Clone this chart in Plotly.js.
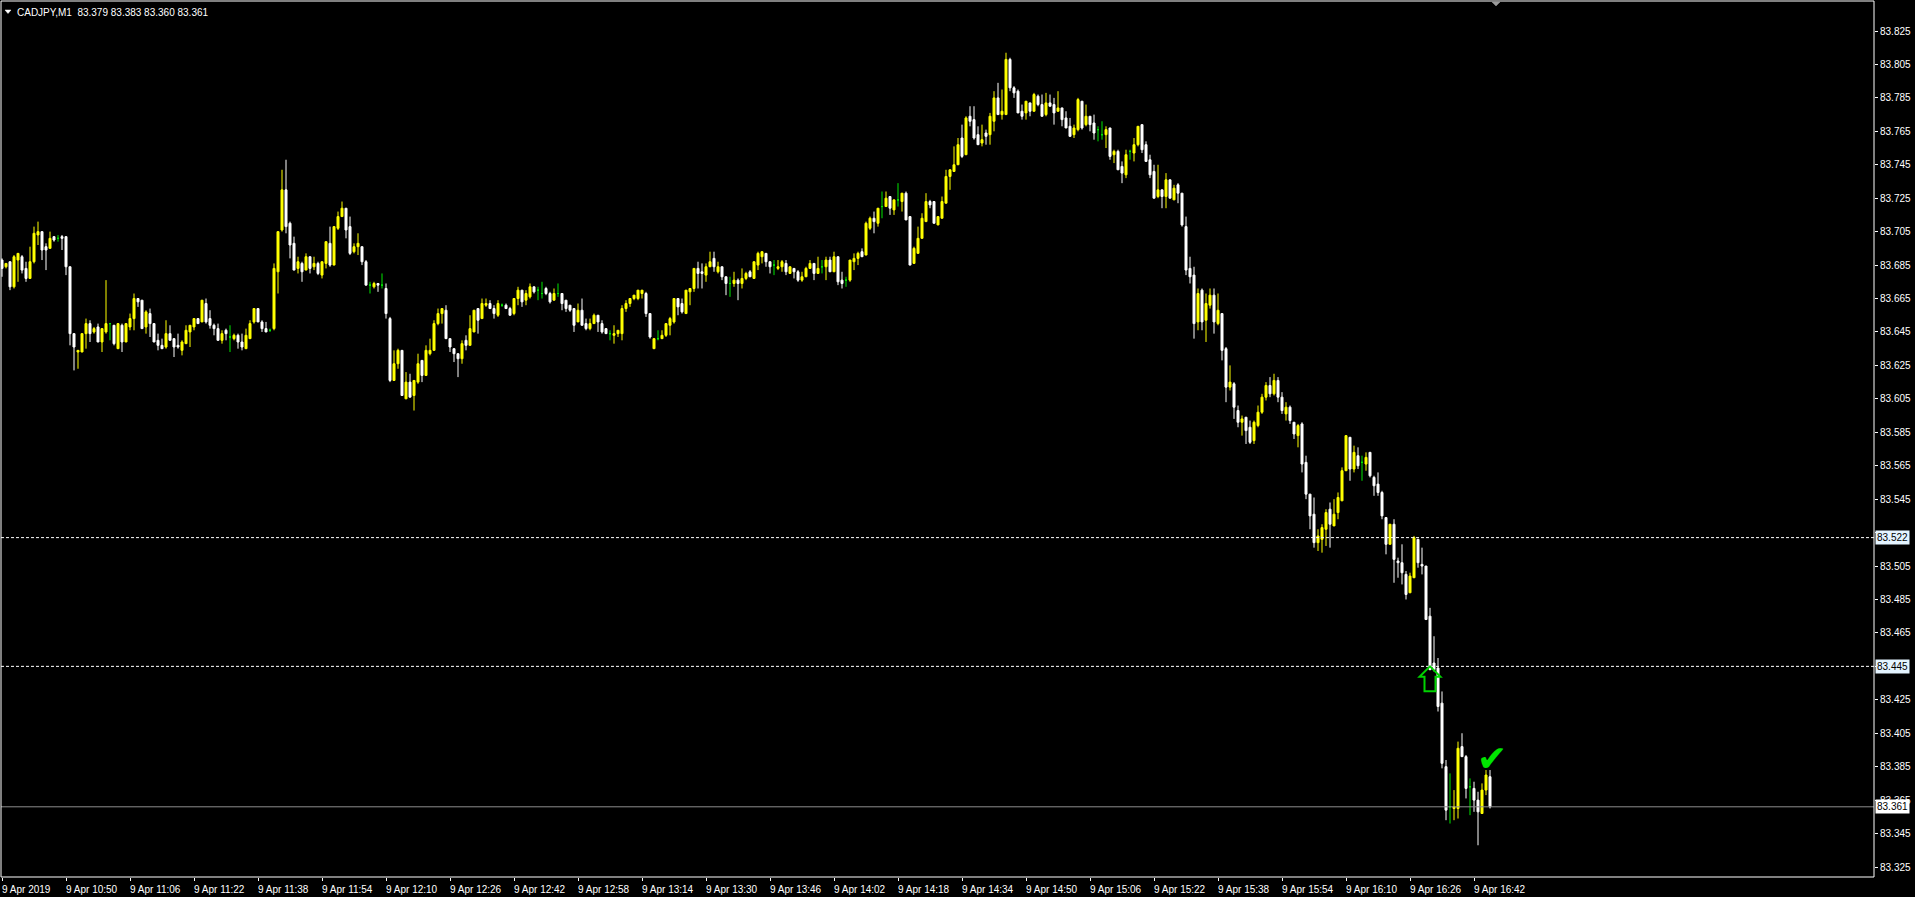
<!DOCTYPE html>
<html><head><meta charset="utf-8">
<script src="https://cdn.plot.ly/plotly-3.0.1.min.js"></script>
<style>html,body{margin:0;padding:0;background:#000;overflow:hidden}#chart{width:1915px;height:897px}</style>
</head><body><div id="chart"></div>
<script>
// ---- data (CADJPY, M1, one candle per minute starting 9 Apr 2019 10:34) ----
const symbolTitle = 'CADJPY,M1';
const lastQuote = ['83.379', '83.383', '83.360', '83.361'];

const openPrices = [
83.688,83.684,83.687,83.672,83.688,83.690,83.683,83.677,83.687,83.703,
83.705,83.696,83.695,83.702,83.701,83.702,83.702,83.684,83.644,83.633,
83.633,83.644,83.650,83.645,83.648,83.639,83.645,83.650,83.649,83.635,
83.649,83.639,83.648,83.653,83.665,83.664,83.648,83.656,83.650,83.640,
83.637,83.636,83.644,83.641,83.637,83.634,83.638,83.645,83.648,83.653,
83.651,83.662,83.653,83.649,83.647,83.640,83.646,83.642,83.641,83.643,
83.639,83.635,83.641,83.651,83.659,83.651,83.647,83.646,83.647,83.681,
83.706,83.730,83.710,83.698,83.683,83.686,83.682,83.690,83.684,83.686,
83.679,83.686,83.698,83.685,83.707,83.714,83.719,83.708,83.693,83.696,
83.696,83.687,83.673,83.672,83.674,83.673,83.671,83.653,83.616,83.626,
83.634,83.605,83.615,83.607,83.615,83.628,83.619,83.632,83.634,83.650,
83.656,83.658,83.641,83.635,83.632,83.629,83.640,83.637,83.645,83.659,
83.653,83.661,83.662,83.659,83.655,83.661,83.661,83.659,83.656,83.665,
83.670,83.664,83.666,83.672,83.670,83.668,83.671,83.668,83.664,83.668,
83.668,83.664,83.661,83.659,83.651,83.658,83.650,83.647,83.650,83.655,
83.650,83.647,83.644,83.643,83.644,83.644,83.659,83.662,83.665,83.665,
83.668,83.668,83.656,83.635,83.641,83.641,83.643,83.649,83.651,83.665,
83.662,83.656,83.669,83.671,83.683,83.681,83.679,83.684,83.689,83.681,
83.684,83.678,83.674,83.674,83.676,83.674,83.677,83.681,83.677,83.685,
83.690,83.692,83.687,83.685,83.683,83.684,83.686,83.680,83.683,83.681,
83.676,83.678,83.683,83.686,83.680,83.684,83.684,83.688,83.681,83.690,
83.676,83.676,83.676,83.687,83.689,83.693,83.691,83.707,83.713,83.710,
83.720,83.720,83.726,83.718,83.724,83.723,83.728,83.714,83.686,83.692,
83.701,83.711,83.723,83.723,83.709,83.713,83.722,83.738,83.741,83.745,
83.761,83.751,83.774,83.772,83.763,83.758,83.764,83.763,83.771,83.785,
83.775,83.775,83.808,83.791,83.789,83.777,83.776,83.782,83.777,83.786,
83.781,83.775,83.782,83.781,83.777,83.779,83.773,83.768,83.763,83.766,
83.783,83.769,83.774,83.770,83.766,83.763,83.763,83.767,83.751,83.753,
83.744,83.739,83.753,83.752,83.757,83.769,83.757,83.748,83.741,83.726,
83.730,83.726,83.736,83.724,83.733,83.728,83.708,83.683,83.679,83.651,
83.670,83.652,83.661,83.667,83.650,83.656,83.635,83.612,83.614,83.598,
83.591,83.594,83.588,83.580,83.589,83.597,83.606,83.613,83.608,83.616,
83.606,83.596,83.600,83.591,83.583,83.590,83.567,83.548,83.536,83.519,
83.521,83.527,83.539,83.529,83.537,83.544,83.562,83.582,83.563,83.571,
83.567,83.566,83.573,83.558,83.554,83.549,83.534,83.518,83.530,83.508,
83.507,83.500,83.489,83.498,83.521,83.506,83.505,83.475,83.447,83.444,
83.423,83.385,83.361,83.360,83.360,83.397,83.391,83.373,83.372,83.365,
83.357,83.371,83.379];

const highPrices = [
83.689,83.686,83.687,83.691,83.692,83.691,83.687,83.696,83.708,83.711,
83.705,83.698,83.705,83.702,83.703,83.703,83.702,83.684,83.644,83.634,
83.644,83.653,83.652,83.648,83.650,83.647,83.676,83.650,83.649,83.650,
83.650,83.650,83.656,83.668,83.665,83.664,83.658,83.659,83.650,83.644,
83.641,83.652,83.649,83.641,83.644,83.640,83.649,83.649,83.653,83.653,
83.664,83.665,83.658,83.650,83.650,83.646,83.647,83.649,83.644,83.644,
83.644,83.647,83.652,83.659,83.659,83.652,83.651,83.647,83.686,83.705,
83.742,83.748,83.711,83.702,83.690,83.687,83.692,83.690,83.690,83.687,
83.687,83.699,83.708,83.708,83.717,83.723,83.719,83.714,83.698,83.704,
83.696,83.688,83.675,83.675,83.674,83.680,83.674,83.654,83.634,83.635,
83.634,83.621,83.620,83.616,83.632,83.628,83.637,83.641,83.652,83.659,
83.659,83.661,83.641,83.635,83.632,83.640,83.643,83.655,83.658,83.659,
83.665,83.665,83.664,83.661,83.664,83.662,83.662,83.660,83.665,83.672,
83.670,83.670,83.674,83.672,83.672,83.675,83.672,83.669,83.671,83.674,
83.668,83.664,83.661,83.659,83.662,83.665,83.653,83.653,83.656,83.655,
83.652,83.647,83.646,83.649,83.646,83.661,83.664,83.665,83.667,83.670,
83.670,83.669,83.656,83.641,83.646,83.646,83.650,83.654,83.665,83.665,
83.665,83.670,83.671,83.683,83.687,83.686,83.686,83.693,83.693,83.687,
83.684,83.678,83.678,83.681,83.677,83.683,83.681,83.682,83.687,83.693,
83.693,83.692,83.687,83.688,83.688,83.688,83.688,83.684,83.683,83.682,
83.681,83.684,83.688,83.686,83.690,83.688,83.690,83.690,83.693,83.690,
83.681,83.678,83.688,83.692,83.693,83.695,83.711,83.714,83.717,83.719,
83.729,83.729,83.726,83.724,83.734,83.728,83.729,83.714,83.696,83.708,
83.716,83.728,83.724,83.723,83.714,83.726,83.742,83.742,83.756,83.761,
83.769,83.774,83.780,83.780,83.768,83.769,83.766,83.776,83.789,83.794,
83.790,83.812,83.809,83.792,83.790,83.781,83.783,83.782,83.788,83.787,
83.787,83.788,83.787,83.785,83.789,83.779,83.777,83.773,83.769,83.785,
83.783,83.781,83.774,83.775,83.768,83.771,83.768,83.767,83.754,83.754,
83.747,83.754,83.754,83.761,83.768,83.769,83.759,83.751,83.745,83.745,
83.730,83.740,83.736,83.733,83.734,83.728,83.714,83.690,83.684,83.671,
83.671,83.668,83.671,83.671,83.668,83.656,83.636,83.625,83.615,83.601,
83.595,83.594,83.592,83.592,83.601,83.608,83.615,83.618,83.620,83.618,
83.609,83.603,83.601,83.591,83.590,83.591,83.571,83.548,83.546,83.527,
83.530,83.539,83.543,83.545,83.549,83.564,83.583,83.582,83.577,83.576,
83.571,83.573,83.573,83.559,83.561,83.550,83.534,83.530,83.533,83.510,
83.518,83.502,83.501,83.523,83.521,83.516,83.505,83.480,83.463,83.450,
83.430,83.389,83.381,83.371,83.400,83.405,83.392,83.378,83.376,83.370,
83.375,83.383,83.383];

const lowPrices = [
83.678,83.683,83.670,83.671,83.675,83.680,83.675,83.677,83.686,83.697,
83.688,83.682,83.695,83.699,83.699,83.694,83.679,83.637,83.622,83.623,
83.633,83.635,83.639,83.644,83.639,83.633,83.644,83.640,83.637,83.635,
83.633,83.639,83.646,83.646,83.660,83.647,83.644,83.642,83.639,83.634,
83.635,83.635,83.640,83.630,83.635,83.631,83.638,83.636,83.646,83.650,
83.651,83.650,83.647,83.643,83.640,83.638,83.640,83.633,83.640,83.635,
83.634,83.635,83.641,83.650,83.651,83.645,83.645,83.645,83.646,83.668,
83.705,83.704,83.689,83.682,83.680,83.675,83.682,83.680,83.682,83.679,
83.677,83.683,83.684,83.685,83.706,83.714,83.701,83.691,83.692,83.691,
83.685,83.673,83.668,83.671,83.669,83.671,83.653,83.615,83.616,83.623,
83.607,83.605,83.606,83.598,83.614,83.615,83.619,83.631,83.634,83.649,
83.650,83.641,83.633,83.627,83.618,83.626,83.634,83.637,83.645,83.644,
83.653,83.660,83.659,83.653,83.654,83.660,83.659,83.655,83.655,83.661,
83.660,83.661,83.665,83.668,83.664,83.665,83.667,83.662,83.664,83.666,
83.658,83.657,83.657,83.645,83.651,83.649,83.646,83.646,83.650,83.645,
83.644,83.644,83.640,83.638,83.642,83.640,83.657,83.660,83.664,83.664,
83.665,83.654,83.641,83.635,83.640,83.641,83.642,83.643,83.650,83.655,
83.656,83.656,83.661,83.669,83.671,83.671,83.675,83.684,83.681,83.680,
83.676,83.667,83.666,83.672,83.664,83.671,83.676,83.678,83.677,83.682,
83.686,83.684,83.680,83.679,83.682,83.681,83.679,83.680,83.677,83.675,
83.675,83.678,83.683,83.676,83.680,83.680,83.676,83.681,83.681,83.673,
83.671,83.672,83.675,83.682,83.685,83.690,83.691,83.706,83.704,83.708,
83.713,83.720,83.715,83.715,83.720,83.717,83.712,83.685,83.686,83.692,
83.701,83.711,83.719,83.710,83.709,83.713,83.722,83.730,83.741,83.745,
83.749,83.751,83.768,83.760,83.757,83.756,83.757,83.757,83.765,83.775,
83.772,83.775,83.789,83.785,83.776,83.772,83.772,83.774,83.777,83.780,
83.774,83.774,83.780,83.769,83.777,83.768,83.767,83.762,83.761,83.765,
83.766,83.768,83.765,83.760,83.759,83.760,83.755,83.748,83.746,83.742,
83.734,83.737,83.748,83.747,83.756,83.752,83.747,83.737,83.725,83.725,
83.719,83.719,83.725,83.724,83.722,83.708,83.679,83.674,83.641,83.646,
83.646,83.639,83.659,83.644,83.649,83.628,83.603,83.610,83.593,83.588,
83.583,83.578,83.578,83.578,83.588,83.596,83.604,83.606,83.607,83.603,
83.596,83.592,83.590,83.581,83.576,83.561,83.545,83.527,83.516,83.514,
83.513,83.517,83.516,83.529,83.533,83.544,83.562,83.556,83.561,83.563,
83.556,83.562,83.558,83.547,83.547,83.533,83.512,83.518,83.495,83.498,
83.494,83.485,83.489,83.498,83.504,83.500,83.473,83.443,83.442,83.418,
83.384,83.353,83.351,83.353,83.354,83.391,83.366,83.356,83.358,83.338,
83.357,83.368,83.360];

const closePrices = [
83.683,83.686,83.672,83.690,83.692,83.682,83.677,83.687,83.704,83.705,
83.694,83.694,83.701,83.700,83.701,83.701,83.684,83.644,83.636,83.634,
83.644,83.650,83.644,83.647,83.639,83.647,83.650,83.650,83.638,83.650,
83.639,83.650,83.653,83.665,83.663,83.647,83.657,83.650,83.639,83.637,
83.635,83.644,83.640,83.636,83.636,83.639,83.646,83.649,83.653,83.650,
83.664,83.651,83.649,83.647,83.640,83.644,83.644,83.642,83.643,83.639,
83.636,83.643,83.650,83.659,83.651,83.647,83.645,83.646,83.683,83.705,
83.730,83.708,83.697,83.682,83.687,83.681,83.690,83.683,83.686,83.680,
83.687,83.699,83.685,83.708,83.714,83.719,83.706,83.692,83.696,83.698,
83.687,83.673,83.673,83.674,83.673,83.673,83.656,83.616,83.626,83.634,
83.607,83.615,83.606,83.616,83.626,83.619,83.634,83.634,83.650,83.656,
83.659,83.641,83.636,83.632,83.629,83.638,83.637,83.647,83.658,83.652,
83.662,83.662,83.659,83.656,83.662,83.661,83.659,83.655,83.665,83.670,
83.663,83.668,83.672,83.669,83.670,83.668,83.668,83.663,83.668,83.668,
83.662,83.659,83.658,83.649,83.658,83.649,83.647,83.650,83.655,83.651,
83.645,83.644,83.644,83.644,83.646,83.659,83.662,83.665,83.667,83.670,
83.670,83.656,83.642,83.641,83.641,83.643,83.650,83.653,83.665,83.660,
83.657,83.670,83.671,83.683,83.680,83.680,83.684,83.687,83.684,83.684,
83.678,83.674,83.674,83.676,83.674,83.677,83.680,83.678,83.687,83.692,
83.693,83.687,83.684,83.685,83.684,83.687,83.681,83.684,83.681,83.676,
83.678,83.683,83.686,83.680,83.683,83.684,83.688,83.681,83.690,83.675,
83.674,83.676,83.688,83.689,83.692,83.690,83.710,83.713,83.711,83.719,
83.720,83.725,83.719,83.724,83.724,83.728,83.712,83.685,83.695,83.701,
83.713,83.723,83.721,83.710,83.714,83.723,83.738,83.742,83.745,83.757,
83.750,83.773,83.771,83.761,83.757,83.760,83.762,83.774,83.785,83.775,
83.777,83.808,83.791,83.788,83.776,83.774,83.783,83.777,83.787,83.781,
83.774,83.782,83.780,83.776,83.779,83.772,83.767,83.762,83.767,83.784,
83.767,83.774,83.769,83.764,83.766,83.763,83.766,83.750,83.753,83.742,
83.740,83.751,83.753,83.757,83.768,83.754,83.747,83.739,83.725,83.730,
83.726,83.736,83.725,83.731,83.728,83.709,83.682,83.678,83.650,83.668,
83.651,83.662,83.667,83.651,83.658,83.634,83.612,83.615,83.600,83.591,
83.593,83.586,83.579,83.591,83.597,83.606,83.613,83.608,83.616,83.606,
83.598,83.600,83.592,83.584,83.589,83.566,83.548,83.535,83.519,83.523,
83.528,83.537,83.530,83.536,83.546,83.562,83.583,83.563,83.573,83.565,
83.567,83.570,83.559,83.553,83.549,83.535,83.518,83.530,83.509,83.507,
83.501,83.488,83.499,83.522,83.507,83.505,83.473,83.443,83.443,83.421,
83.387,83.359,83.361,83.361,83.396,83.391,83.372,83.373,83.365,83.358,
83.371,83.380,83.361];

const xTickIndex = [0,16,32,48,64,80,96,112,128,144,160,176,192,208,224,240,256,272,288,304,320,336,352,368];
const xTickLabels = ['9 Apr 2019','9 Apr 10:50','9 Apr 11:06','9 Apr 11:22','9 Apr 11:38','9 Apr 11:54',
  '9 Apr 12:10','9 Apr 12:26','9 Apr 12:42','9 Apr 12:58','9 Apr 13:14','9 Apr 13:30','9 Apr 13:46',
  '9 Apr 14:02','9 Apr 14:18','9 Apr 14:34','9 Apr 14:50','9 Apr 15:06','9 Apr 15:22','9 Apr 15:38',
  '9 Apr 15:54','9 Apr 16:10','9 Apr 16:26','9 Apr 16:42'];
const yTickValues = [83.325,83.345,83.365,83.385,83.405,83.425,83.445,83.465,83.485,83.505,83.525,83.545,83.565,
  83.585,83.605,83.625,83.645,83.665,83.685,83.705,83.725,83.745,83.765,83.785,83.805,83.825];
const yTickLabels = ['83.325','83.345','83.365','83.385','83.405','83.425','83.445','83.465','83.485','83.505',
  '83.525','83.545','83.565','83.585','83.605','83.625','83.645','83.665','83.685','83.705','83.725','83.745',
  '83.765','83.785','83.805','83.825'];
const levelPrices = [83.522, 83.445];
const bidPrice = 83.361;
const buyArrow = {index: 357, price: 83.445};
const closeMark = {index: 372, price: 83.390};

// ---- build traces ----
const FONT = 'Liberation Sans, Arial, sans-serif';
const body = {x: [], open: [], high: [], low: [], close: []};
const doji = {x: [], open: [], high: [], low: [], close: []};
openPrices.forEach((o, i) => {
  const t = (o === closePrices[i]) ? doji : body;
  t.x.push(i); t.open.push(o); t.high.push(highPrices[i]); t.low.push(lowPrices[i]); t.close.push(closePrices[i]);
});

const traces = [
  Object.assign({type: 'candlestick', hoverinfo: 'none', showlegend: false, whiskerwidth: 0,
    increasing: {line: {color: '#ffff00', width: 1}, fillcolor: '#ffff00'},
    decreasing: {line: {color: '#ffffff', width: 1}, fillcolor: '#ffffff'}}, body),
  Object.assign({type: 'candlestick', hoverinfo: 'none', showlegend: false, whiskerwidth: 0,
    increasing: {line: {color: '#00e600', width: 1}, fillcolor: '#00e600'},
    decreasing: {line: {color: '#00e600', width: 1}, fillcolor: '#00e600'}}, doji)
];

// axis labels hidden behind the level-line price boxes (as in the terminal)
const shownTickText = yTickLabels.map((t, k) =>
  levelPrices.some(p => Math.abs(p - yTickValues[k]) < 0.006) ? '' : t);

const shapes = [];
levelPrices.forEach(p => shapes.push({type: 'line', xref: 'paper', x0: 0, x1: 1, yref: 'y', y0: p, y1: p,
  line: {color: '#ffffff', width: 1, dash: '3px,2px'}}));
shapes.push({type: 'line', xref: 'paper', x0: 0, x1: 1, yref: 'y', y0: bidPrice, y1: bidPrice,
  line: {color: '#8c8c8c', width: 1}});
shapes.push({type: 'rect', xref: 'paper', yref: 'paper', x0: 0, x1: 1, y0: 0, y1: 1,
  line: {color: '#ffffff', width: 1}, layer: 'above'});
// buy arrow (outlined up arrow)
shapes.push({type: 'path', xref: 'x', yref: 'y', xsizemode: 'pixel', ysizemode: 'pixel',
  xanchor: buyArrow.index, yanchor: buyArrow.price,
  path: 'M0,0 L10.5,-10.5 L5.5,-10.5 L5.5,-25 L-5.5,-25 L-5.5,-10.5 L-10.5,-10.5 Z',
  line: {color: '#00d200', width: 2}, fillcolor: 'rgba(0,0,0,0)'});
// header triangle
shapes.push({type: 'path', xref: 'paper', yref: 'paper', xsizemode: 'pixel', ysizemode: 'pixel',
  xanchor: 0, yanchor: 1, path: 'M4,-9 L10,-9 L7,-12.5 Z', line: {color: '#ffffff', width: 0.5}, fillcolor: '#ffffff'});
// chart shift marker
shapes.push({type: 'path', xref: 'paper', yref: 'paper', xsizemode: 'pixel', ysizemode: 'pixel',
  xanchor: 0, yanchor: 1, path: 'M1491,-1 L1499,-1 L1495,-5 Z', line: {color: '#9a9a9a', width: 0.5}, fillcolor: '#9a9a9a'});

const annotations = [];
xTickIndex.forEach((v, k) => annotations.push({xref: 'x', x: v, yref: 'paper', y: 0, yshift: -12,
  xanchor: 'left', yanchor: 'middle', xshift: -2, text: xTickLabels[k], showarrow: false,
  font: {family: FONT, size: 10, color: '#ffffff'}}));
levelPrices.concat([bidPrice]).forEach((p, k) => annotations.push({xref: 'paper', x: 1, xanchor: 'left', xshift: 1,
  yref: 'y', y: p, yanchor: 'middle', text: p.toFixed(3), showarrow: false,
  bgcolor: k < 2 ? '#e4f4ff' : '#ffffff', borderpad: 1,
  font: {family: FONT, size: 10, color: '#000000'}}));
annotations.push({xref: 'paper', x: 0, xshift: 14, yref: 'paper', y: 1, yshift: -11, xanchor: 'left', yanchor: 'middle',
  text: symbolTitle + '\u00a0\u00a0' + lastQuote.join(' '), showarrow: false,
  font: {family: FONT, size: 10, color: '#ffffff'}});
annotations.push({xref: 'x', x: closeMark.index, xshift: 2, yref: 'y', y: closeMark.price, xanchor: 'center', yanchor: 'middle',
  text: '\u2714', showarrow: false, font: {family: 'DejaVu Sans', size: 36, color: '#00e600'}});

const layout = {
  width: 1915, height: 897,
  paper_bgcolor: '#000000', plot_bgcolor: '#000000',
  margin: {l: 1, r: 41, t: 1, b: 20, pad: 0},
  showlegend: false, boxgap: 0.5, boxgroupgap: 0,
  xaxis: {range: [-0.25, 468], rangeslider: {visible: false}, showgrid: false, zeroline: false, showline: false,
    tickmode: 'array', tickvals: xTickIndex, showticklabels: false, ticks: 'outside', ticklen: 3,
    tickcolor: '#ffffff', fixedrange: true},
  yaxis: {side: 'right', range: [83.31902, 83.84294], showgrid: false, zeroline: false, showline: false,
    tickmode: 'array', tickvals: yTickValues, ticktext: shownTickText, ticks: 'outside', ticklen: 3,
    tickcolor: '#ffffff', tickfont: {family: FONT, size: 10, color: '#ffffff'}, fixedrange: true},
  shapes: shapes, annotations: annotations
};

Plotly.newPlot('chart', traces, layout, {staticPlot: true, displayModeBar: false});
</script>
</body></html>
